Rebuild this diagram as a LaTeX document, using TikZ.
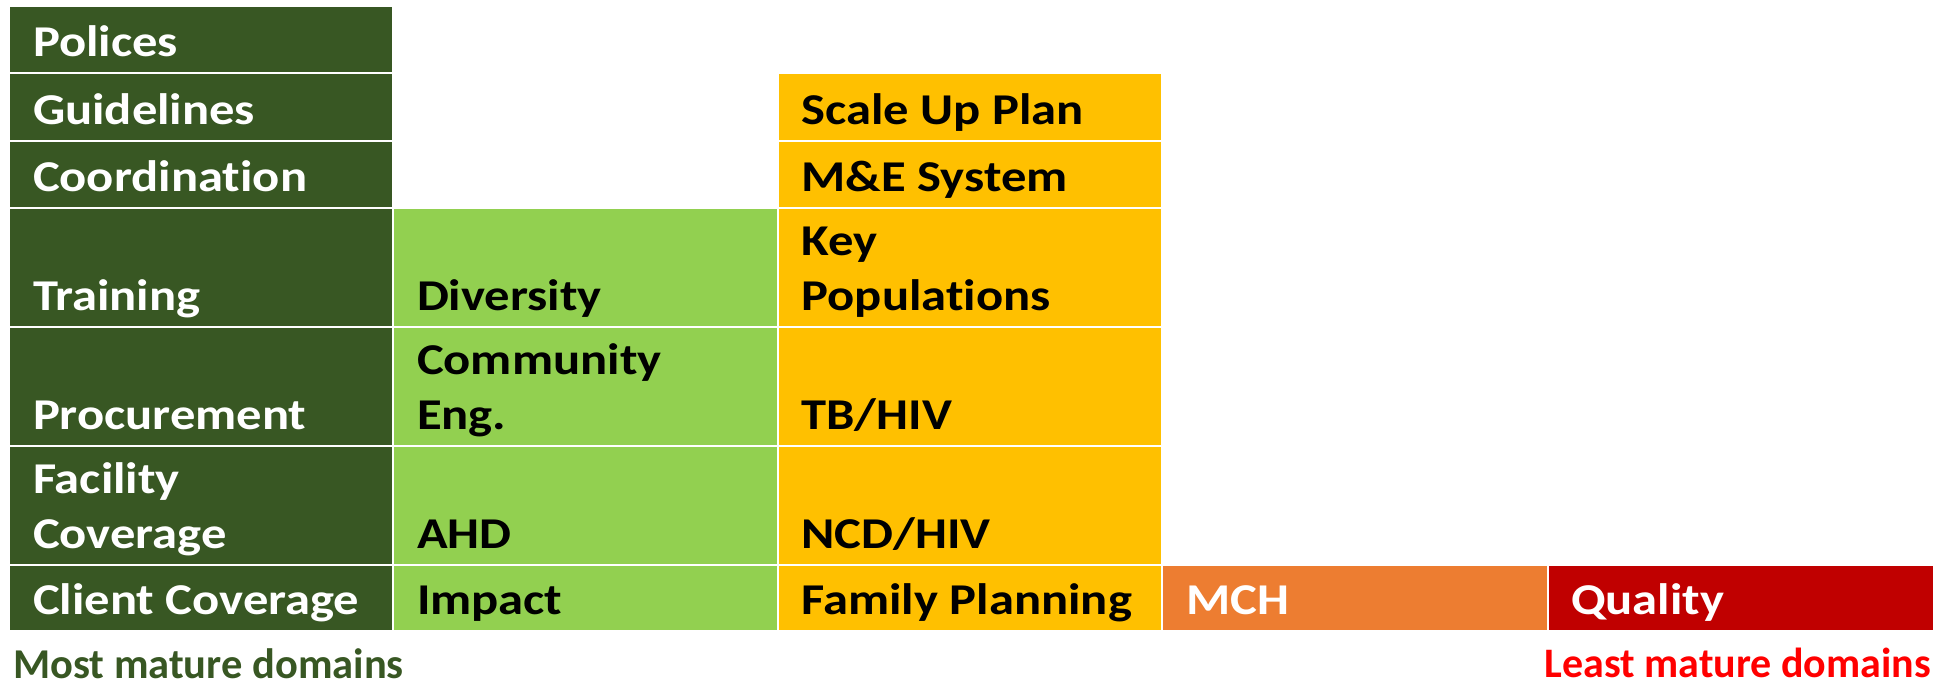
\documentclass[tikz,border=0pt]{standalone}
\usepackage{fontspec}
\setmainfont{Carlito}[RawFeature=-liga]
\newfontfamily\cellf{Carlito}[FakeStretch=1.15,RawFeature=-liga]
\definecolor{dg}{HTML}{385723}
\definecolor{lg}{HTML}{92D050}
\definecolor{yo}{HTML}{FFC000}
\definecolor{og}{HTML}{ED7D31}
\definecolor{rd}{HTML}{C00000}
\definecolor{rt}{HTML}{FF0000}
\begin{document}
\begin{tikzpicture}[x=1pt,y=-1pt,
  cell/.style={draw=white, line width=2pt, inner sep=0pt, outer sep=0pt, anchor=north west},
  w1/.style={minimum width=384pt}, w2/.style={minimum width=384.5pt}, w4/.style={minimum width=386pt},
  hs/.style={minimum height=67pt}, hm/.style={minimum height=68pt}, ht/.style={minimum height=119pt},
  lab/.style={inner sep=0pt, outer sep=0pt, anchor=base west, align=left, xshift=24pt, yshift=17pt,
    font=\cellf\bfseries\fontsize{44}{55}\selectfont},
  wt/.style={text=white}, bk/.style={text=black}
]
\useasboundingbox (0,0) rectangle (1942,683);
% column 1
\node[cell,w1,hs,fill=dg] (a1) at (9,6) {};
\node[cell,w1,hm,fill=dg] (a2) at (9,73) {};
\node[cell,w1,hs,fill=dg] (a3) at (9,141) {};
\node[cell,w1,ht,fill=dg] (a4) at (9,208) {};
\node[cell,w1,ht,fill=dg] (a5) at (9,327) {};
\node[cell,w1,ht,fill=dg] (a6) at (9,446) {};
\node[cell,w1,minimum height=66pt,fill=dg] (a7) at (9,565) {};
% column 2
\node[cell,w2,ht,fill=lg] (b4) at (393,208) {};
\node[cell,w2,ht,fill=lg] (b5) at (393,327) {};
\node[cell,w2,ht,fill=lg] (b6) at (393,446) {};
\node[cell,w2,minimum height=66pt,fill=lg] (b7) at (393,565) {};
% column 3
\node[cell,w2,hm,fill=yo] (c2) at (777.5,73) {};
\node[cell,w2,hs,fill=yo] (c3) at (777.5,141) {};
\node[cell,w2,ht,fill=yo] (c4) at (777.5,208) {};
\node[cell,w2,ht,fill=yo] (c5) at (777.5,327) {};
\node[cell,w2,ht,fill=yo] (c6) at (777.5,446) {};
\node[cell,w2,minimum height=66pt,fill=yo] (c7) at (777.5,565) {};
% columns 4 and 5
\node[cell,w4,minimum height=66pt,fill=og] (d7) at (1162,565) {};
\node[cell,w4,minimum height=66pt,fill=rd] (e7) at (1548,565) {};
% labels column 1
\node[lab,wt] (ta1) at (a1.south west) {Polices};
\node[lab,wt] (ta2) at (a2.south west) {Guidelines};
\node[lab,wt] (ta3) at (a3.south west) {Coordination};
\node[lab,wt] (ta4) at (a4.south west) {Training};
\node[lab,wt] (ta5) at (a5.south west) {Procurement};
\node[lab,wt] (ta6) at (a6.south west) {Facility\\Coverage};
\node[lab,wt] (ta7) at (a7.south west) {Client Coverage};
% labels column 2
\node[lab,bk] (tb4) at (b4.south west) {Diversity};
\node[lab,bk] (tb5) at (b5.south west) {Community\\Eng.};
\node[lab,bk] (tb6) at (b6.south west) {AHD};
\node[lab,bk] (tb7) at (b7.south west) {Impact};
% labels column 3
\node[lab,bk] (tc2) at (c2.south west) {Scale Up Plan};
\node[lab,bk] (tc3) at (c3.south west) {M\&E System};
\node[lab,bk] (tc4) at (c4.south west) {Key\\Populations};
\node[lab,bk] (tc5) at (c5.south west) {TB/HIV};
\node[lab,bk] (tc6) at (c6.south west) {NCD/HIV};
\node[lab,bk] (tc7) at (c7.south west) {Family Planning};
% labels columns 4, 5
\node[lab,wt] (td7) at (d7.south west) {MCH};
\node[lab,wt,xshift=-1pt] (te7) at (e7.south west) {Quality};
% captions
\node[inner sep=0pt, anchor=base west, text=dg, font=\bfseries\fontsize{42.5}{50}\selectfont] (most) at (13,678) {Most mature domains};
\node[inner sep=0pt, anchor=base east, text=rt, font=\bfseries\fontsize{42}{50}\selectfont] (least) at (1931,677) {Least mature domains};
\end{tikzpicture}
\end{document}
